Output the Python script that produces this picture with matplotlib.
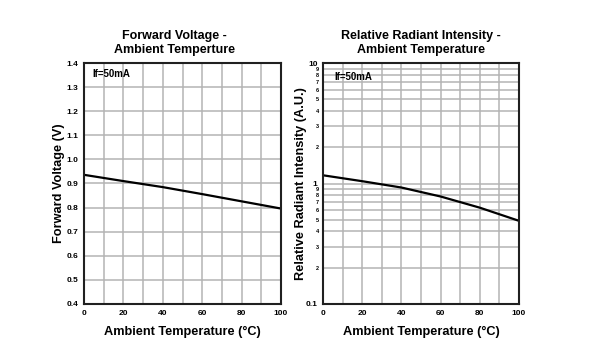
import numpy as np
import matplotlib.pyplot as plt
from matplotlib.ticker import FixedLocator, FuncFormatter

plt.rcParams['font.family'] = ['Liberation Sans', 'DejaVu Sans']
plt.rcParams['font.weight'] = 'bold'

# Forward voltage vs ambient temperature
temp = [0, 20, 40, 60, 80, 100]
vf = [0.936, 0.910, 0.885, 0.856, 0.826, 0.796]

# Relative radiant intensity vs ambient temperature
ri = [1.17, 1.045, 0.926, 0.78, 0.63, 0.49]

fig = plt.figure(figsize=(5.9, 3.58), dpi=100)
W, H = 590, 358
ax1 = fig.add_axes([84 / W, 1 - 304 / H, 197 / W, 241 / H])
ax2 = fig.add_axes([323 / W, 1 - 304 / H, 196 / W, 241 / H])

grid_kw = dict(color='#b4b4b4', lw=1.1)

# ---- left panel
ax1.set_xlim(0, 100)
ax1.set_ylim(0.4, 1.4)
ax1.set_xticks(range(0, 101, 20))
yt = np.round(np.arange(0.4, 1.41, 0.1), 1)
ax1.set_yticks(yt)
ax1.set_yticklabels([f'{v:.1f}' for v in yt])
for x in range(10, 100, 10):
    ax1.axvline(x, **grid_kw, zorder=1)
for y in yt[1:-1]:
    ax1.axhline(y, **grid_kw, zorder=1)
ax1.plot(temp, vf, color='black', lw=1.6, zorder=3)
ax1.text(4, 1.375, 'If=50mA', fontsize=7, fontweight='bold', va='top')
ax1.set_title('Forward Voltage -\nAmbient Temperture', fontsize=9,
              fontweight='bold', pad=7, x=0.46, linespacing=1.25)
ax1.set_ylabel('Forward Voltage (V)', fontsize=9.2, fontweight='bold', labelpad=1)
ax1.set_xlabel('Ambient Temperature (°C)', fontsize=9.2, fontweight='bold', labelpad=7)

# ---- right panel
ax2.set_yscale('log')
ax2.set_xlim(0, 100)
ax2.set_ylim(0.1, 10)
ax2.set_xticks(range(0, 101, 20))
ax2.yaxis.set_major_locator(FixedLocator([0.1, 1, 10]))
ax2.yaxis.set_major_formatter(FuncFormatter(lambda v, p: f'{v:g}'))
minors = [m * d for d in (0.1, 1) for m in range(2, 10)]
ax2.yaxis.set_minor_locator(FixedLocator(minors))
ax2.yaxis.set_minor_formatter(
    FuncFormatter(lambda v, p: str(int(round(v / 10 ** np.floor(np.log10(v) + 1e-9))))))
ax2.tick_params(axis='y', which='minor', labelsize=4, length=0, pad=3)
for x in range(10, 100, 10):
    ax2.axvline(x, **grid_kw, zorder=1)
for y in minors + [1]:
    ax2.axhline(y, **grid_kw, zorder=1)
ax2.plot(temp, ri, color='black', lw=1.6, zorder=3)
ax2.text(6, 8.5, 'If=50mA', fontsize=7, fontweight='bold', va='top')
ax2.set_title('Relative Radiant Intensity -\nAmbient Temperature', fontsize=9,
              fontweight='bold', pad=7, linespacing=1.25)
ax2.set_ylabel('Relative Radiant Intensity (A.U.)', fontsize=9.2, fontweight='bold', labelpad=-1)
ax2.set_xlabel('Ambient Temperature (°C)', fontsize=9.2, fontweight='bold', labelpad=7)

for ax in (ax1, ax2):
    ax.tick_params(axis='both', which='major', labelsize=6, length=0, pad=4)
    for lab in ax.get_xticklabels() + ax.get_yticklabels():
        lab.set_fontweight('bold')
    for sp in ax.spines.values():
        sp.set_linewidth(1.5)
        sp.set_color('#202020')
        sp.set_zorder(4)

for lab in ax2.yaxis.get_minorticklabels():
    lab.set_fontweight('bold')

fig.savefig('out.png', dpi=100)
